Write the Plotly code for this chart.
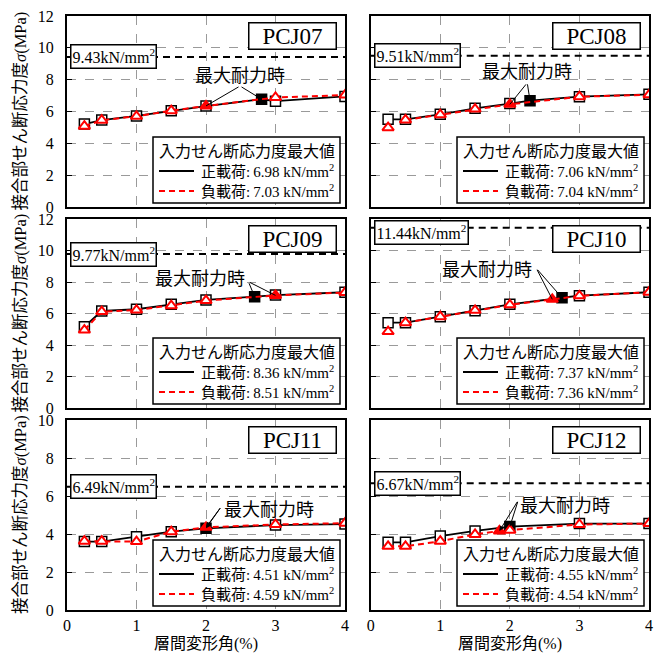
import plotly.graph_objects as go

# ---------------- data ----------------
panel_names = ["PCJ07", "PCJ08", "PCJ09", "PCJ10", "PCJ11", "PCJ12"]

pcj07_pos_x = [0.25, 0.5, 1, 1.5, 2, 2.8, 3, 4]
pcj07_pos_y = [5.21, 5.46, 5.72, 6.05, 6.34, 6.77, 6.65, 6.95]
pcj07_neg_x = [0.25, 0.5, 1, 1.5, 2, 3, 4]
pcj07_neg_y = [5.08, 5.45, 5.70, 6.05, 6.35, 6.88, 7.03]

pcj08_pos_x = [0.25, 0.5, 1, 1.5, 2, 2.29, 3, 4]
pcj08_pos_y = [5.51, 5.51, 5.82, 6.20, 6.50, 6.68, 6.93, 7.08]
pcj08_neg_x = [0.25, 0.5, 1, 1.5, 2, 3, 4]
pcj08_neg_y = [4.98, 5.47, 5.80, 6.15, 6.45, 6.93, 7.05]

pcj09_pos_x = [0.25, 0.5, 1, 1.5, 2, 2.7, 3, 4]
pcj09_pos_y = [5.16, 6.16, 6.27, 6.58, 6.86, 7.07, 7.17, 7.35]
pcj09_neg_x = [0.25, 0.5, 1, 1.5, 2, 3, 4]
pcj09_neg_y = [4.95, 6.12, 6.22, 6.50, 6.82, 7.15, 7.33]

pcj10_pos_x = [0.25, 0.5, 1, 1.5, 2, 2.75, 3, 4]
pcj10_pos_y = [5.42, 5.42, 5.80, 6.18, 6.58, 7.00, 7.13, 7.35]
pcj10_neg_x = [0.25, 0.5, 1, 1.5, 2, 2.61, 3, 4]
pcj10_neg_y = [4.85, 5.42, 5.80, 6.20, 6.55, 6.90, 7.12, 7.35]

pcj11_pos_x = [0.25, 0.5, 1, 1.5, 2, 3, 4]
pcj11_pos_y = [3.60, 3.60, 3.86, 4.12, 4.30, 4.47, 4.52]
pcj11_neg_x = [0.25, 0.5, 1, 1.5, 2, 3, 4]
pcj11_neg_y = [3.62, 3.62, 3.60, 4.12, 4.35, 4.50, 4.57]

pcj12_pos_x = [0.25, 0.5, 1, 1.5, 2, 3, 4]
pcj12_pos_y = [3.56, 3.56, 3.89, 4.16, 4.39, 4.55, 4.55]
pcj12_neg_x = [0.25, 0.5, 1, 1.5, 1.85, 2, 3, 4]
pcj12_neg_y = [3.35, 3.35, 3.62, 3.98, 4.16, 4.20, 4.50, 4.55]

# index of the maximum-strength point (filled marker) in each series
pos_peak_idx = [5, 5, 5, 5, 4, 4]
neg_peak_idx = [4, 4, 5, 5, 4, 4]
# first index from which the negative-loading line is drawn
neg_line_start = [0, 1, 0, 1, 0, 0]

ref_levels = [9.43, 9.51, 9.77, 11.44, 6.49, 6.67]          # kN/mm2 dashed level
pos_max_input = [6.98, 7.06, 8.36, 7.37, 4.51, 4.55]
neg_max_input = [7.03, 7.04, 8.51, 7.36, 4.59, 4.54]

y_max = [12, 12, 12, 12, 10, 10]
x_ticks = [0, 1, 2, 3, 4]

legend_title = "入力せん断応力度最大値"
pos_label = "正載荷"
neg_label = "負載荷"

pos_x = [pcj07_pos_x, pcj08_pos_x, pcj09_pos_x, pcj10_pos_x, pcj11_pos_x, pcj12_pos_x]
pos_y = [pcj07_pos_y, pcj08_pos_y, pcj09_pos_y, pcj10_pos_y, pcj11_pos_y, pcj12_pos_y]
neg_x = [pcj07_neg_x, pcj08_neg_x, pcj09_neg_x, pcj10_neg_x, pcj11_neg_x, pcj12_neg_x]
neg_y = [pcj07_neg_y, pcj08_neg_y, pcj09_neg_y, pcj10_neg_y, pcj11_neg_y, pcj12_neg_y]

# "最大耐力時" label positions (text centre, line apex) in data units
label_pos = [(2.49, 8.2), (2.24, 8.5), (1.91, 8.17), (1.67, 8.76), (2.9, 5.26), (2.79, 5.5)]
apex_pos = [(2.49, 7.6), (2.25, 7.8), (2.61, 8.02), (2.38, 8.87), (2.22, 5.44), (2.12, 5.77)]
arrow_heads = [0, 0, 0, 0, 2, 2]
ref_label_shift = [0, 0, 0, -5, 0, 0]

# ---------------- style ----------------
FONT = "Liberation Serif, Noto Sans CJK JP"
OFF = 8                      # page body margin of the html document
W, H = 663 - OFF, 653 - OFF


def px_x(p):
    return (p - OFF) / W


def px_y(p):
    return 1 - (p - OFF) / H


COLS_PX = [(67, 345), (370.7, 649)]          # plot left/right, page pixels
ROWS_PX = [(16, 207), (219, 408), (420, 610)]  # plot top/bottom, page pixels
XDOM = [(px_x(a), px_x(b)) for a, b in COLS_PX]
YDOM = [(px_y(b), px_y(a)) for a, b in ROWS_PX]

fig = go.Figure()
layout = dict(
    width=W, height=H, margin=dict(l=0, r=0, t=0, b=0, autoexpand=False),
    paper_bgcolor="white", plot_bgcolor="white", showlegend=False,
    font=dict(family=FONT, size=16, color="black"),
    annotations=[], shapes=[],
)
anns = layout["annotations"]
shapes = layout["shapes"]

for i in range(6):
    k = i + 1
    row, col = i // 2, i % 2
    xa = "x" if k == 1 else f"x{k}"
    ya = "y" if k == 1 else f"y{k}"
    xkey = "xaxis" if k == 1 else f"xaxis{k}"
    ykey = "yaxis" if k == 1 else f"yaxis{k}"

    layout[xkey] = dict(
        domain=XDOM[col], anchor=ya, range=[0, 4], tickvals=x_ticks,
        showticklabels=(row == 2), showgrid=True, gridcolor="#9a9a9a", griddash="dash",
        gridwidth=1, zeroline=False, showline=True, linecolor="black", linewidth=2,
        mirror=True, ticks="", tickfont=dict(size=16, family=FONT), automargin=False,
        ticklabeloverflow="allow",
    )
    layout[ykey] = dict(
        domain=YDOM[row], anchor=xa, range=[0, y_max[i]], dtick=2,
        showticklabels=(col == 0), showgrid=True, gridcolor="#9a9a9a", griddash="dash",
        gridwidth=1, zeroline=False, showline=True, linecolor="black", linewidth=2,
        mirror=True, ticks="inside", ticklen=5, tickcolor="black",
        tickfont=dict(size=16, family=FONT), ticklabelstandoff=8, automargin=False,
        ticklabeloverflow="allow",
    )

    # reference dashed level
    shapes.append(dict(
        type="line", xref=xa, yref=ya, x0=0, x1=4, y0=ref_levels[i], y1=ref_levels[i],
        line=dict(color="black", width=2, dash="7px,5px"), layer="above",
    ))

    # positive loading
    pc = ["black" if j == pos_peak_idx[i] else "white" for j in range(len(pos_x[i]))]
    fig.add_trace(go.Scatter(
        x=pos_x[i], y=pos_y[i], mode="lines", line=dict(color="black", width=1.8),
        xaxis=xa, yaxis=ya, hoverinfo="skip", name=pos_label,
    ))
    fig.add_trace(go.Scatter(
        x=pos_x[i], y=pos_y[i], mode="markers", name=pos_label,
        marker=dict(symbol="square", size=10, color=pc, line=dict(color="black", width=1.5)),
        xaxis=xa, yaxis=ya,
    ))
    # negative loading
    s = neg_line_start[i]
    nc = ["red" if j == neg_peak_idx[i] else "white" for j in range(len(neg_x[i]))]
    fig.add_trace(go.Scatter(
        x=neg_x[i][s:], y=neg_y[i][s:], mode="lines", name=neg_label,
        line=dict(color="red", width=2, dash="6px,4px"),
        xaxis=xa, yaxis=ya, hoverinfo="skip",
    ))
    fig.add_trace(go.Scatter(
        x=neg_x[i], y=neg_y[i], mode="markers", name=neg_label,
        marker=dict(symbol="triangle-up", size=10, color=nc, line=dict(color="red", width=2)),
        xaxis=xa, yaxis=ya,
    ))

    # ---- legend box (drawn manually) ----
    L, R = COLS_PX[col]
    T, B = ROWS_PX[row]
    bx0, bx1 = R - 192, R - 5
    by0, by1 = B - 70, B - 4
    shapes.append(dict(
        type="rect", xref="paper", yref="paper", x0=px_x(bx0), x1=px_x(bx1),
        y0=px_y(by1), y1=px_y(by0), fillcolor="white",
        line=dict(color="black", width=1.5), layer="above",
    ))
    anns.append(dict(
        xref="paper", yref="paper", x=px_x((bx0 + bx1) / 2), y=px_y(by0 + 14),
        xanchor="center", yanchor="middle", text=legend_title, showarrow=False,
        font=dict(family=FONT, size=16),
    ))
    entries = [
        (by0 + 34, "black", "solid", f"{pos_label}:\u2009{pos_max_input[i]:.2f} kN/mm<sup>2</sup>"),
        (by0 + 54, "red", "6px,4px", f"{neg_label}:\u2009{neg_max_input[i]:.2f} kN/mm<sup>2</sup>"),
    ]
    for ey, colr, dash, txt in entries:
        shapes.append(dict(
            type="line", xref="paper", yref="paper", x0=px_x(bx0 + 6), x1=px_x(bx0 + 41),
            y0=px_y(ey), y1=px_y(ey), line=dict(color=colr, width=2, dash=dash),
            layer="above",
        ))
        anns.append(dict(
            xref="paper", yref="paper", x=px_x(bx0 + 46), y=px_y(ey),
            xanchor="left", yanchor="middle", text=txt, showarrow=False,
            font=dict(family=FONT, size=15),
        ))

    # panel name box
    anns.append(dict(
        xref=f"{xa} domain", yref=f"{ya} domain", x=1, y=1, xanchor="right", yanchor="top",
        xshift=-8, yshift=-6, text=panel_names[i], showarrow=False,
        font=dict(family=FONT, size=23), bgcolor="white", bordercolor="black",
        borderwidth=1.5, borderpad=0, width=86,
    ))
    # reference level box
    anns.append(dict(
        xref=xa, yref=ya, x=0, y=ref_levels[i], xanchor="left", yanchor="middle",
        xshift=3, yshift=ref_label_shift[i],
        text=f"{ref_levels[i]:.2f}kN/mm<sup>2</sup>", showarrow=False,
        font=dict(family=FONT, size=16), bgcolor="white", bordercolor="black",
        borderwidth=1.5, borderpad=1,
    ))
    # 最大耐力時 label
    anns.append(dict(
        xref=xa, yref=ya, x=label_pos[i][0], y=label_pos[i][1], text="最大耐力時",
        showarrow=False, font=dict(family=FONT, size=18),
    ))
    ax, ay = apex_pos[i]
    for px, py in [(pos_x[i][pos_peak_idx[i]], pos_y[i][pos_peak_idx[i]]),
                   (neg_x[i][neg_peak_idx[i]], neg_y[i][neg_peak_idx[i]])]:
        anns.append(dict(
            xref=xa, yref=ya, x=px, y=py, ax=ax, ay=ay, axref=xa, ayref=ya,
            text="", showarrow=True, arrowhead=arrow_heads[i], arrowsize=1,
            arrowwidth=1, arrowcolor="black", standoff=0,
        ))

    # y-axis titles for left column
    if col == 0:
        anns.append(dict(
            xref="paper", yref="paper", x=px_x(20), y=(YDOM[row][0] + YDOM[row][1]) / 2,
            xanchor="center", yanchor="middle",
            text="接合部せん断応力度<i>σ</i>(MPa)", textangle=-90, showarrow=False,
            font=dict(family=FONT, size=16.5),
        ))
    # x-axis titles for bottom row
    if row == 2:
        anns.append(dict(
            xref="paper", yref="paper", x=(XDOM[col][0] + XDOM[col][1]) / 2, y=px_y(644),
            xanchor="center", yanchor="middle", text="層間変形角(%)", showarrow=False,
            font=dict(family=FONT, size=16),
        ))

fig.update_layout(**layout)
fig.write_html("out.html")
